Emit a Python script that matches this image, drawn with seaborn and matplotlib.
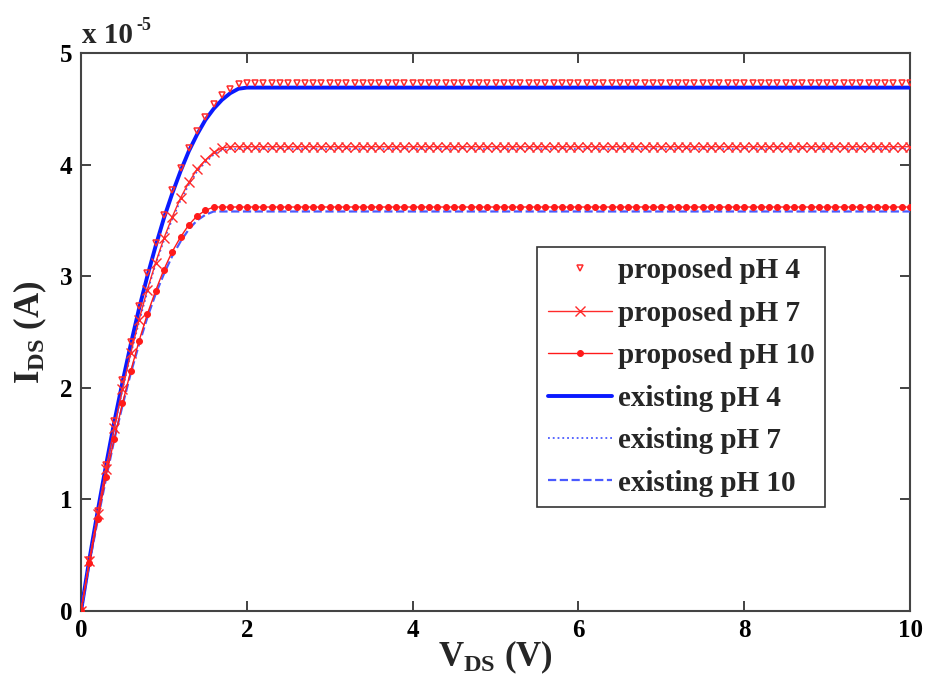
import numpy as np
import pandas as pd
import matplotlib
matplotlib.use('Agg')
import matplotlib.pyplot as plt
import seaborn as sns

# drain voltage samples (V)
vds = np.round(np.arange(0, 10.05, 0.1), 1)

# drain current in units of 1e-5 A: rising part at 0.1 V steps, then saturation level
prop_ph4_rise = [0, 0.46, 0.90, 1.31, 1.70, 2.07, 2.41, 2.73, 3.03, 3.30, 3.55,
                 3.77, 3.97, 4.15, 4.30, 4.43, 4.54, 4.62, 4.68, 4.72, 4.73]
prop_ph4_sat = 4.73
prop_ph7_rise = [0, 0.45, 0.87, 1.27, 1.64, 1.99, 2.31, 2.61, 2.88, 3.12, 3.34,
                 3.53, 3.70, 3.84, 3.96, 4.04, 4.11, 4.15, 4.16]
prop_ph7_sat = 4.16
prop_ph10_rise = [0, 0.43, 0.82, 1.20, 1.54, 1.86, 2.15, 2.42, 2.66, 2.87, 3.06,
                  3.22, 3.35, 3.46, 3.54, 3.59, 3.62, 3.62]
prop_ph10_sat = 3.62

exist_ph4_rise = [0, 0.46, 0.89, 1.30, 1.69, 2.05, 2.39, 2.71, 3.00, 3.27, 3.52,
                  3.74, 3.94, 4.12, 4.27, 4.40, 4.50, 4.58, 4.64, 4.68, 4.69]
exist_ph4_sat = 4.69
exist_ph7_rise = [0, 0.45, 0.87, 1.26, 1.64, 1.98, 2.30, 2.59, 2.86, 3.11, 3.32,
                  3.51, 3.68, 3.82, 3.94, 4.02, 4.09, 4.13, 4.14]
exist_ph7_sat = 4.14
exist_ph10_rise = [0, 0.42, 0.81, 1.18, 1.53, 1.84, 2.13, 2.39, 2.63, 2.84, 3.02,
                   3.18, 3.31, 3.42, 3.50, 3.55, 3.58, 3.58]
exist_ph10_sat = 3.58

labels = ['proposed pH 4', 'proposed pH 7', 'proposed pH 10',
          'existing pH 4', 'existing pH 7', 'existing pH 10']
curves = [(prop_ph4_rise, prop_ph4_sat), (prop_ph7_rise, prop_ph7_sat),
          (prop_ph10_rise, prop_ph10_sat), (exist_ph4_rise, exist_ph4_sat),
          (exist_ph7_rise, exist_ph7_sat), (exist_ph10_rise, exist_ph10_sat)]

frames = []
for lab, (rise, sat) in zip(labels, curves):
    ids = list(rise) + [sat] * (len(vds) - len(rise))
    frames.append(pd.DataFrame({'vds': vds, 'ids': ids, 'label': lab}))
df = pd.concat(frames, ignore_index=True)

red = '#ff2a2a'
styles = {
    'proposed pH 4': dict(color=red, linestyle='none', marker='v', ms=5, mfc='none', mec=red, mew=1.1, zorder=4),
    'proposed pH 7': dict(color=red, linestyle='-', lw=1.0, marker='x', ms=6.5, mec=red, mew=1.0, zorder=4),
    'proposed pH 10': dict(color='#ff1a1a', linestyle='-', lw=1.0, marker='.', ms=8.5, mec='#ff1a1a', mfc='#ff1a1a', zorder=4),
    'existing pH 4': dict(color='#0a1aff', linestyle='-', lw=2.8, zorder=3),
    'existing pH 7': dict(color='#4a5aff', linestyle=':', lw=1.3, zorder=3),
    'existing pH 10': dict(color='#4a5aff', linestyle='--', lw=1.6, dashes=(7, 4), zorder=3),
}

sns.set_style('ticks')
plt.rcParams['font.family'] = ['Liberation Serif', 'DejaVu Serif']
plt.rcParams['font.weight'] = 'bold'
plt.rcParams['mathtext.fontset'] = 'custom'
plt.rcParams['mathtext.rm'] = 'Liberation Serif:bold'
plt.rcParams['mathtext.bf'] = 'Liberation Serif:bold'
plt.rcParams['mathtext.it'] = 'Liberation Serif:bold'
plt.rcParams['mathtext.default'] = 'rm'

fig, ax = plt.subplots(figsize=(9.27, 6.83), dpi=100)
fig.subplots_adjust(left=0.0874, right=0.9817, top=0.9224, bottom=0.1054)

for lab in labels:
    sns.lineplot(data=df[df['label'] == lab], x='vds', y='ids', ax=ax,
                 label=lab, errorbar=None, **styles[lab])

ax.set_xlim(0, 10)
ax.set_ylim(0, 5)
ax.set_xticks([0, 2, 4, 6, 8, 10])
ax.set_yticks([0, 1, 2, 3, 4, 5])
ax.tick_params(direction='in', top=True, right=True, length=7, width=1.2,
               labelsize=18, colors='#222222', labelcolor='black', pad=6)
for spine in ax.spines.values():
    spine.set_visible(True)
    spine.set_color('#444444')
    spine.set_linewidth(1.5)

ax.set_xlabel(r'V$_{DS}$ (V)', fontsize=25, fontweight='bold', labelpad=-3)
ax.set_ylabel(r'I$_{DS}$ (A)', fontsize=25, fontweight='bold', labelpad=8)
ax.annotate('x 10', xy=(0, 1), xycoords='axes fraction', xytext=(1, 3),
            textcoords='offset points', fontsize=21, fontweight='bold',
            ha='left', va='bottom')
ax.annotate('-5', xy=(0, 1), xycoords='axes fraction', xytext=(40, 14),
            textcoords='offset points', fontsize=13, fontweight='bold',
            ha='left', va='bottom')

leg = ax.legend(loc='upper right', bbox_to_anchor=(0.897, 0.652), fontsize=21,
                frameon=True, fancybox=False, framealpha=1, edgecolor='#333333',
                handlelength=2.2, labelspacing=0.53, borderpad=0.35, handletextpad=0.2,
                borderaxespad=0)
leg.get_frame().set_linewidth(1.2)

fig.savefig('out.png', dpi=100)
